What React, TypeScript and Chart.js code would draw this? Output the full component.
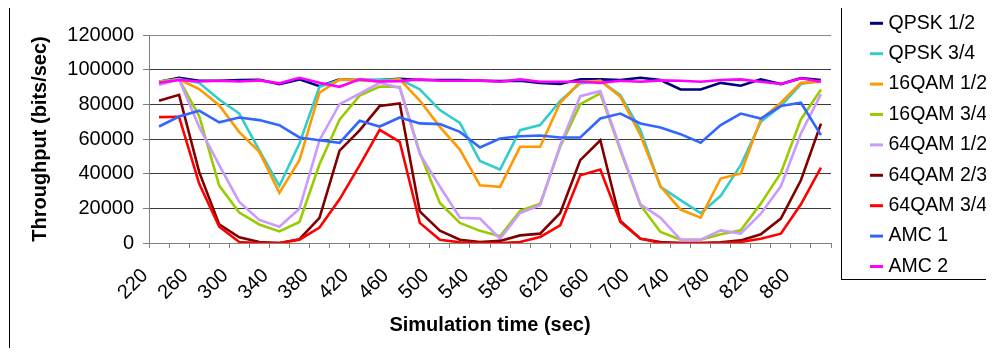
import React, { useEffect, useRef } from 'react';
import { Chart, registerables } from 'chart.js';

Chart.register(...registerables);

const categories = [220, 240, 260, 280, 300, 320, 340, 360, 380, 400, 420, 440, 460, 480, 500, 520, 540, 560, 580, 600, 620, 640, 660, 680, 700, 720, 740, 760, 780, 800, 820, 840, 860, 880];

const qpsk12 = [93000, 95300, 93600, 93600, 94000, 94200, 91700, 94400, 90500, 94400, 94000, 94000, 94700, 94000, 94000, 94000, 93600, 93400, 93600, 92400, 91700, 94500, 94400, 94000, 95300, 94000, 88600, 88600, 92400, 90700, 94400, 91700, 95100, 94000];
const qpsk34 = [93000, 94600, 92400, 82800, 74700, 53500, 33000, 57400, 90100, 94000, 94000, 94000, 94400, 88600, 76700, 69300, 47300, 42400, 65100, 68000, 82000, 92100, 93600, 85300, 65100, 32400, 24700, 17200, 27200, 44900, 69900, 79000, 91700, 93600];
const qam16_12 = [93000, 94400, 88800, 79500, 64000, 52600, 28900, 47800, 86700, 94400, 94000, 93000, 94400, 82200, 67000, 53900, 33300, 32400, 55500, 55500, 80900, 93000, 93600, 84400, 62200, 32700, 19300, 14600, 37200, 40100, 71300, 80900, 92400, 93000];
const qam16_34 = [93000, 94400, 73300, 33100, 17600, 10700, 6700, 12100, 45400, 71100, 85000, 90300, 90000, 52100, 23100, 11600, 7000, 3900, 18500, 22700, 55500, 80100, 86300, 53500, 21800, 6400, 1900, 1900, 5000, 7300, 22700, 40400, 71300, 88600];
const qam64_12 = [91100, 94400, 67000, 44900, 23700, 13300, 9400, 19800, 59300, 80100, 86100, 92400, 89500, 51400, 32600, 14600, 14100, 2500, 17300, 21800, 56400, 84700, 87600, 54500, 22300, 14600, 1900, 1900, 7300, 5400, 16900, 32700, 63200, 85900];
const qam64_23 = [82000, 85500, 41000, 10700, 3300, 600, 0, 2200, 14500, 53300, 65000, 79000, 80500, 18200, 7100, 1900, 600, 1200, 4400, 5400, 17300, 47800, 59300, 12700, 2500, 600, 0, 0, 400, 1500, 5000, 14100, 36200, 68900];
const qam64_34 = [72600, 72800, 34300, 9400, 600, 0, 0, 1900, 8900, 25200, 44800, 65300, 58400, 11600, 1900, 400, 0, 0, 600, 3500, 10200, 39100, 42400, 12100, 2500, 0, 0, 0, 0, 600, 2500, 5400, 22300, 43500];
const amc1 = [67200, 73000, 76300, 69600, 72400, 70900, 68000, 60900, 59300, 57800, 70500, 67200, 72400, 69000, 68600, 64100, 55100, 60300, 61600, 62000, 60900, 60900, 71800, 74700, 69000, 66600, 62800, 57800, 68000, 74700, 71800, 79000, 80900, 62200];
const amc2 = [92400, 94000, 93200, 93600, 93200, 93800, 92100, 95300, 92400, 90100, 94400, 93200, 93400, 94400, 93600, 93600, 93800, 93000, 94400, 93000, 93000, 93000, 92400, 93600, 93000, 93800, 93600, 93000, 94000, 94400, 93000, 91700, 95000, 93000];

const seriesNames = ['QPSK 1/2', 'QPSK 3/4', '16QAM 1/2', '16QAM 3/4', '64QAM 1/2', '64QAM 2/3', '64QAM 3/4', 'AMC 1', 'AMC 2'];
const seriesValues = [qpsk12, qpsk34, qam16_12, qam16_34, qam64_12, qam64_23, qam64_34, amc1, amc2];
const seriesColors = ['#000080', '#33CCCC', '#FF9900', '#99CC00', '#CC99FF', '#800000', '#FF0000', '#3366FF', '#FF00FF'];

const yTicks = [0, 20000, 40000, 60000, 80000, 100000, 120000];

const FONT = 'Arial, "Liberation Sans", sans-serif';

const boxLegend = {
  id: 'boxLegend',
  afterDraw(chart: any) {
    const ctx = chart.ctx;
    ctx.save();
    ctx.strokeStyle = '#000';
    ctx.lineWidth = 1;
    ctx.strokeRect(841.5, 6.5, 200, 273);
    ctx.beginPath();
    ctx.moveTo(9.5, 0);
    ctx.lineTo(9.5, 356);
    ctx.stroke();
    ctx.font = '19.5px ' + FONT;
    ctx.textBaseline = 'middle';
    ctx.textAlign = 'left';
    chart.data.datasets.forEach((ds: any, k: number) => {
      const y = 23.3 + k * 30.4;
      ctx.strokeStyle = ds.borderColor;
      ctx.lineWidth = 3;
      ctx.beginPath();
      ctx.moveTo(870, y);
      ctx.lineTo(883, y);
      ctx.stroke();
      ctx.fillStyle = '#000';
      ctx.fillText(ds.label, 888.5, y);
    });
    ctx.restore();
  },
};

export default function App() {
  const ref = useRef<HTMLCanvasElement>(null);
  useEffect(() => {
    const canvas = ref.current;
    if (!canvas) return;
    Chart.defaults.font.family = FONT;
    const n = seriesNames.length;
    const chart = new Chart(canvas, {
      type: 'line',
      data: {
        labels: categories.map(String),
        datasets: seriesNames.map((name, i) => ({
          label: name,
          data: seriesValues[i],
          borderColor: seriesColors[i],
          backgroundColor: seriesColors[i],
          borderWidth: 2.6,
          pointRadius: 0,
          tension: 0,
          fill: false,
          order: n - i,
        })),
      },
      options: {
        responsive: false,
        animation: false,
        events: [],
        layout: { padding: { left: 10, top: 35, right: 994 - 831, bottom: 0 } },
        plugins: { legend: { display: false }, tooltip: { enabled: false } },
        scales: {
          x: {
            type: 'category',
            offset: true,
            ticks: {
              autoSkip: false,
              maxRotation: 45,
              minRotation: 45,
              color: '#000',
              font: { size: 20 },
              padding: 16,
              labelOffset: -14,
              callback: (_v: any, i: number) => (i % 2 === 0 ? String(categories[i]) : ''),
            },
            grid: { offset: true, drawOnChartArea: false, drawTicks: true, tickLength: 5, tickColor: '#808080' },
            border: { color: '#808080' },
            title: {
              display: true,
              text: 'Simulation time (sec)',
              color: '#000',
              font: { size: 20, weight: 'bold' },
              padding: { top: 0, bottom: 19 },
            },
            afterFit: (s: any) => { s.height = 356 - 243; },
          },
          y: {
            min: 0,
            max: 120000,
            afterBuildTicks: (s: any) => { s.ticks = yTicks.map((v) => ({ value: v })); },
            ticks: {
              color: '#000',
              font: { size: 20 },
              padding: 9,
              callback: (v: any) => String(v),
            },
            grid: {
              color: (c: any) => (c.tick && c.tick.value === 120000 ? '#8a8a8a' : c.tick && c.tick.value === 0 ? '#808080' : '#3a3a3a'),
              tickColor: '#808080',
              tickLength: 6,
              drawTicks: true,
            },
            border: { color: '#808080' },
            title: {
              display: true,
              text: 'Throughput (bits/sec)',
              color: '#000',
              font: { size: 20, weight: 'bold' },
              padding: { top: 18, bottom: 0 },
            },
            afterFit: (s: any) => { s.width = 149 - 10; },
          },
        },
      },
      plugins: [boxLegend],
    } as any);
    return () => chart.destroy();
  }, []);
  return (
    <div style={{ width: 994, height: 356, margin: -8, overflow: 'hidden', position: 'relative', background: '#fff' }}>
      <canvas ref={ref} width={994} height={356} style={{ display: 'block' }} />
    </div>
  );
}
